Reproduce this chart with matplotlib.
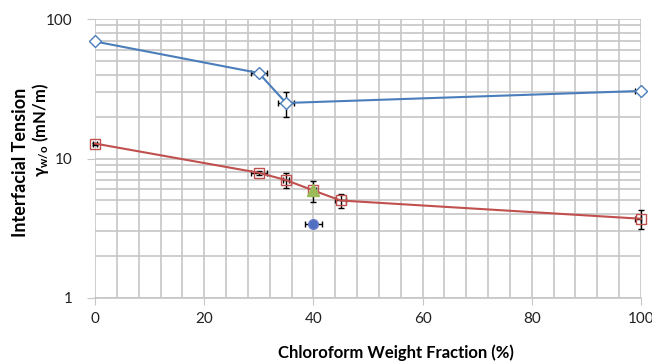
import matplotlib
matplotlib.use("Agg")
import matplotlib.pyplot as plt
from matplotlib.ticker import FixedLocator, NullFormatter, FixedFormatter

plt.rcParams['font.family'] = ['Lato', 'DejaVu Sans']
plt.rcParams['mathtext.fontset'] = 'custom'
plt.rcParams['mathtext.rm'] = 'Lato:bold'
plt.rcParams['mathtext.it'] = 'Lato:bold'

# Series A (blue diamonds)
blue_x = [0, 30, 35, 100]
blue_y = [69, 41, 25, 30.5]
blue_yerr = [3, 2, 5, 1]
blue_xerr_lo = [0.3, 1.5, 1.5, 1.0]
blue_xerr_hi = [0.3, 1.5, 1.5, 0.0]

# Series B (red squares)
red_x = [0, 30, 35, 40, 45, 100]
red_y = [12.8, 7.9, 7.0, 5.9, 5.0, 3.7]
red_yerr = [0.2, 0.3, 0.9, 1.0, 0.55, 0.6]
red_xerr_lo = [0.3, 1.5, 0.5, 0.5, 1.0, 1.0]
red_xerr_hi = [0.3, 1.5, 0.5, 0.5, 1.0, 0.0]

# Single points
green_x = [40]
green_y = [5.9]
dot_x = [40]
dot_y = [3.4]
dot_xerr = [1.5]
dot_yerr = [0.1]

x_ticks = [0, 20, 40, 60, 80, 100]
y_ticks = [1, 10, 100]

fig = plt.figure(figsize=(6.52, 3.62), dpi=100)
ax = fig.add_axes([0.1457, 0.1768, 0.8373, 0.7707])
ax.set_yscale('log')
ax.set_xlim(0, 100)
ax.set_ylim(1, 100)

grid_c = '#c6c6c6'
ax.xaxis.set_major_locator(FixedLocator(x_ticks))
ax.xaxis.set_minor_locator(FixedLocator([v for v in range(0, 101, 4)]))
ax.yaxis.set_major_locator(FixedLocator(y_ticks))
ax.yaxis.set_major_formatter(FixedFormatter([str(v) for v in y_ticks]))
ax.yaxis.set_minor_locator(FixedLocator([m * d for d in (1, 10) for m in range(2, 10)]))
ax.yaxis.set_minor_formatter(NullFormatter())
ax.grid(which='both', axis='both', color=grid_c, lw=1.2, zorder=0)
ax.set_axisbelow(True)

for s in ['top', 'right', 'left']:
    ax.spines[s].set_visible(False)
ax.spines['bottom'].set_color(grid_c)
ax.spines['bottom'].set_linewidth(1.2)
ax.tick_params(which='major', length=5, color=grid_c, labelsize=11, pad=5,
               labelcolor='#222222')
ax.tick_params(which='minor', length=0)
ax.tick_params(axis='y', which='major', length=6, pad=10)

blue_c = '#4a7ebb'
red_c = '#c0504d'

eb = ax.errorbar(blue_x, blue_y, yerr=blue_yerr, xerr=[blue_xerr_lo, blue_xerr_hi],
                 fmt='none', ecolor='black', elinewidth=1.0, capsize=2.5,
                 capthick=1.0, zorder=3)
for art in eb.lines[1] + eb.lines[2]:
    art.set_clip_on(False)
ax.plot(blue_x, blue_y, color=blue_c, lw=1.5, marker='D', ms=6.5,
        mfc='white', mec=blue_c, mew=1.0, zorder=4, clip_on=False)

eb = ax.errorbar(red_x, red_y, yerr=red_yerr, xerr=[red_xerr_lo, red_xerr_hi],
                 fmt='none', ecolor='black', elinewidth=1.0, capsize=2.5,
                 capthick=1.0, zorder=3)
for art in eb.lines[1] + eb.lines[2]:
    art.set_clip_on(False)
ax.plot(red_x, red_y, color=red_c, lw=1.5, marker='s', ms=7,
        mfc='none', mec=red_c, mew=1.0, zorder=4, clip_on=False)

ax.plot(green_x, green_y, linestyle='none', marker='^', ms=8,
        mfc='#9bbb59', mec='#9bbb59', zorder=5)

ax.errorbar(dot_x, dot_y, xerr=dot_xerr, yerr=dot_yerr, fmt='none',
            ecolor='black', elinewidth=1.0, capsize=2.5, capthick=1.0, zorder=3)
ax.plot(dot_x, dot_y, linestyle='none', marker='o', ms=7,
        mfc='#4f6fc0', mec='#6a7ec8', zorder=5)

fig.text(396 / 652, 1 - 353 / 362, 'Chloroform Weight Fraction (%)',
         ha='center', va='center', fontsize=12, fontweight='bold')
fig.text(21 / 652, 1 - 162 / 362, 'Interfacial Tension', rotation=90,
         ha='center', va='center', fontsize=13, fontweight='bold')
fig.text(41 / 652, 1 - 130 / 362, 'γ$_{\\mathrm{w/o}}$ (mN/m)', rotation=90,
         ha='center', va='center', fontsize=12, fontweight='bold')

fig.savefig('out.png', dpi=100)
